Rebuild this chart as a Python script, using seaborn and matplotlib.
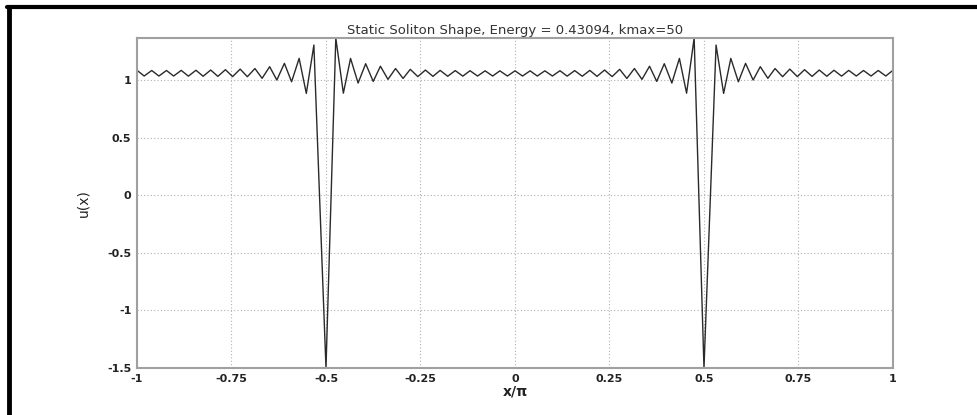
import numpy as np
import pandas as pd
import matplotlib
matplotlib.use("Agg")
import matplotlib.pyplot as plt
from matplotlib.lines import Line2D
import seaborn as sns

# right half of the curve (x/pi from 0 to 1); the shape is even, so the left half mirrors it
x_inner = [0.000, 0.020, 0.040, 0.059, 0.079, 0.099, 0.119, 0.138, 0.158, 0.178,
           0.198, 0.217, 0.237, 0.257, 0.277, 0.296, 0.316, 0.336, 0.356, 0.375,
           0.395, 0.415, 0.435, 0.454, 0.474]
u_inner = [1.080, 1.035, 1.080, 1.035, 1.080, 1.035, 1.081, 1.034, 1.082, 1.033,
           1.084, 1.032, 1.087, 1.030, 1.093, 1.014, 1.100, 1.006, 1.120, 0.988,
           1.142, 0.974, 1.188, 0.886, 1.365]
x_dip = [0.500]
u_dip = [-1.500]
x_outer = [0.532, 0.552, 0.571, 0.591, 0.610, 0.630, 0.649, 0.669, 0.688, 0.708,
           0.727, 0.747, 0.766, 0.786, 0.805, 0.825, 0.844, 0.864, 0.883, 0.903,
           0.922, 0.942, 0.961, 0.981, 1.000]
u_outer = [1.304, 0.884, 1.188, 0.985, 1.145, 1.000, 1.116, 1.015, 1.100, 1.029,
           1.095, 1.030, 1.090, 1.032, 1.087, 1.033, 1.085, 1.034, 1.084, 1.035,
           1.083, 1.035, 1.083, 1.035, 1.085]

x_ticks = [-1, -0.75, -0.5, -0.25, 0, 0.25, 0.5, 0.75, 1]
x_ticklabels = ["-1", "-0.75", "-0.5", "-0.25", "0", "0.25", "0.5", "0.75", "1"]
y_ticks = [-1.5, -1, -0.5, 0, 0.5, 1]
y_ticklabels = ["-1.5", "-1", "-0.5", "0", "0.5", "1"]

x_half = np.array(x_inner + x_dip + x_outer)
u_half = np.array(u_inner + u_dip + u_outer)
df = pd.DataFrame({
    "x": np.concatenate([-x_half[::-1], x_half[1:]]),
    "u": np.concatenate([u_half[::-1], u_half[1:]]),
})

sns.set_theme(style="white")
plt.rcParams["font.family"] = ["DejaVu Sans"]

fig = plt.figure(figsize=(9.77, 4.15), dpi=100)
ax = fig.add_axes([0.1402, 0.1133, 0.7738, 0.7951])

sns.lineplot(data=df, x="x", y="u", ax=ax, color="#2a2a2a", linewidth=1.0,
             estimator=None, sort=False)

ax.set_xlim(-1, 1)
ax.set_ylim(-1.5, 1.365)
ax.set_xticks(x_ticks)
ax.set_xticklabels(x_ticklabels)
ax.set_yticks(y_ticks)
ax.set_yticklabels(y_ticklabels)
ax.grid(True, linestyle=(0, (1, 2)), color="#b0b0b0", linewidth=0.8)
ax.tick_params(direction="in", length=4, width=0.8, color="#808080",
               labelsize=8, labelcolor="#222222", pad=4)
for lbl in ax.get_xticklabels() + ax.get_yticklabels():
    lbl.set_fontweight("bold")
for s in ax.spines.values():
    s.set_color("#a0a0a0")
    s.set_linewidth(1.5)

ax.set_title("Static Soliton Shape, Energy = 0.43094, kmax=50", fontsize=9.5,
             color="#333333", pad=3)
ax.set_xlabel("x/\u03c0", fontsize=10, color="#222222", fontweight="bold", labelpad=1)
ax.set_ylabel("u(x)", fontsize=10, color="#222222", labelpad=12)

# black frame (top and left edges only, as in the cropped original)
fig.add_artist(Line2D([0.0075, 1.0], [0.9825, 0.9825], color="black", linewidth=3,
                      transform=fig.transFigure))
fig.add_artist(Line2D([0.0092, 0.0092], [0.0, 0.9825], color="black", linewidth=3.5,
                      transform=fig.transFigure))

fig.savefig("out.png", dpi=100, facecolor="white")
